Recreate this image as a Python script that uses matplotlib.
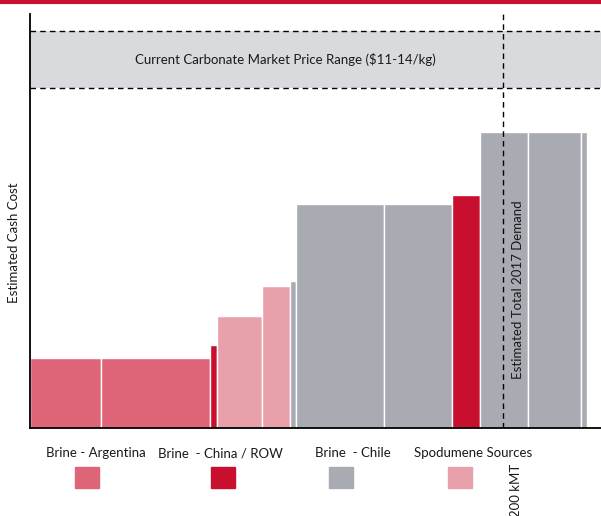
import numpy as np
import matplotlib.pyplot as plt
from matplotlib.patches import Rectangle
from matplotlib.lines import Line2D

plt.rcParams['font.family'] = ['Lato', 'DejaVu Sans']

# ----------------------------------------------------------
# Cost curve data (capacity in kMT, relative cash cost)
# ----------------------------------------------------------
capacity_kmt = [30, 46, 3, 19, 12, 2.5, 37, 29, 11.5, 20.5, 22.5, 2.5]
cash_cost = [16.9, 16.9, 20.0, 27.1, 34.3, 35.5, 54.1, 54.2, 56.3, 71.5, 71.5, 71.5]
source = ["Argentina", "Argentina", "China", "Spodumene", "Spodumene", "Chile",
          "Chile", "Chile", "China", "Chile", "Chile", "Chile"]

price_low, price_high = 82.1, 95.9
demand_kmt = 200

legend_names = ["Argentina", "China", "Chile", "Spodumene"]
legend_labels = ["Brine - Argentina", "Brine  - China / ROW", "Brine  - Chile", "Spodumene Sources"]

colors = {
    "Argentina": "#DE6478",
    "China": "#C8102E",
    "Chile": "#A9ABB3",
    "Spodumene": "#E8A1AB",
}

FS = 9.5
TXT = "#1a1a1a"

W, H = 601, 516
fig = plt.figure(figsize=(W / 100, H / 100), dpi=100)

# axes placed in pixel terms
ax = fig.add_axes([30 / W, (H - 428) / H, (W - 30) / W, (428 - 14) / H])

left = np.concatenate([[0], np.cumsum(capacity_kmt)[:-1]])
ax.bar(left, cash_cost, width=capacity_kmt, align="edge",
       color=[colors[s] for s in source], edgecolor="white", linewidth=1.0, zorder=2)

# market price band
ax.axhspan(price_low, price_high, color="#D9DADE", zorder=0, lw=0)
for yv in (price_low, price_high):
    ax.axhline(yv, color="black", ls=(0, (4, 3)), lw=1.0, zorder=3)
ax.text(108, (price_low + price_high) / 2, "Current Carbonate Market Price Range ($11-14/kg)",
        ha="center", va="center", fontsize=FS, color=TXT)

# demand line
ax.axvline(demand_kmt, color="black", ls=(0, (4, 3)), lw=1.0, zorder=4)
ax.text(demand_kmt + 6.3, 33.5, "Estimated Total 2017 Demand", rotation=90,
        ha="center", va="center", fontsize=FS, color=TXT, zorder=5)

ax.set_xlim(0, 571 / 2.3665)
ax.set_ylim(0, 100)
ax.set_xticks([])
ax.set_yticks([])
for s in ("top", "right"):
    ax.spines[s].set_visible(False)
for s in ("left", "bottom"):
    ax.spines[s].set_linewidth(1.3)

fig.text(14 / W, 1 - 243 / H, "Estimated Cash Cost", rotation=90,
         ha="center", va="center", fontsize=FS, color=TXT)

# legend row
label_x = [95.5, 220, 353, 473]
box_x = [87, 223, 341, 460]
for name, lab, lx, bx in zip(legend_names, legend_labels, label_x, box_x):
    fig.text(lx / W, 1 - 453 / H, lab, ha="center", va="center", fontsize=FS, color=TXT)
    fig.patches.append(Rectangle(((bx - 12) / W, 1 - 488 / H), 24 / W, 21 / H,
                                 transform=fig.transFigure, color=colors[name]))

fig.text(516 / W, 1 - 464 / H, "200 kMT", rotation=90, ha="center", va="top",
         fontsize=FS, color=TXT)

# red rule along the top edge
fig.lines.append(Line2D([0, 1], [1 - 2 / H, 1 - 2 / H], transform=fig.transFigure,
                        color="#C8102E", lw=3))

fig.savefig("out.png", dpi=100)
